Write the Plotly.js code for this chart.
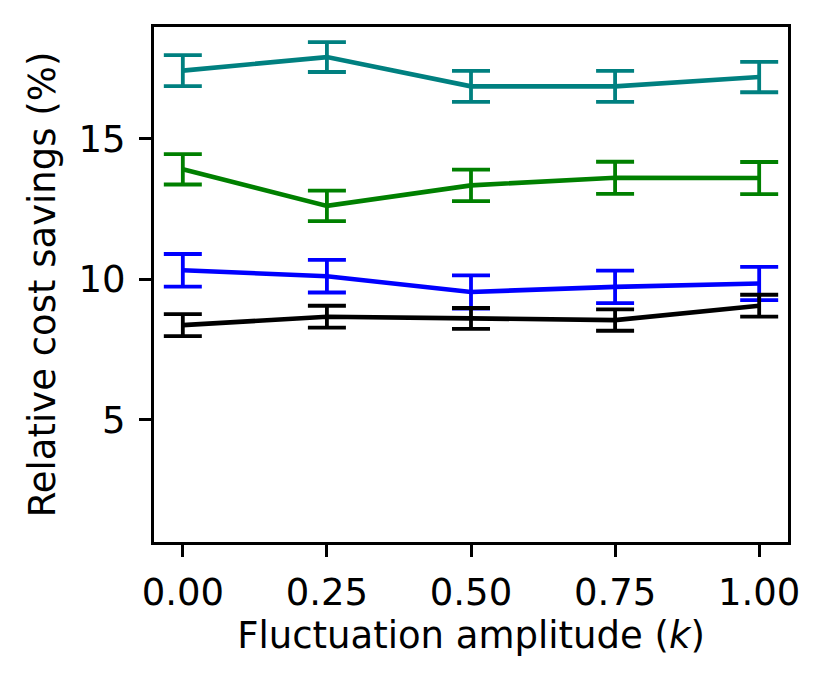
<!DOCTYPE html>
<html>
<head>
<meta charset="utf-8">
<script src="https://cdn.plot.ly/plotly-3.0.1.min.js"></script>
<style>
  html, body { margin:0; padding:0; background:#fff; }
  #chart { width:829px; height:690px; }
</style>
</head>
<body>
<div id="chart"></div>
<script>
// fluctuation amplitude k on the x axis
const amplitude = [0, 0.25, 0.5, 0.75, 1.0];

// mean relative cost savings (%) and their error bars
const tealMean  = [17.42, 17.90, 16.86, 16.86, 17.19];
const tealErr   = [0.55, 0.53, 0.55, 0.55, 0.54];
const greenMean = [13.91, 12.61, 13.34, 13.61, 13.60];
const greenErr  = [0.54, 0.54, 0.56, 0.57, 0.57];
const blueMean  = [10.32, 10.11, 9.55, 9.73, 9.85];
const blueErr   = [0.58, 0.58, 0.59, 0.58, 0.59];
const blackMean = [8.37, 8.67, 8.61, 8.55, 9.06];
const blackErr  = [0.39, 0.39, 0.37, 0.38, 0.39];

const xTicks = [0, 0.25, 0.5, 0.75, 1.0];
const xTickText = ['0.00', '0.25', '0.50', '0.75', '1.00'];
const yTicks = [5, 10, 15];

const font = 'DejaVu Sans, Liberation Sans, sans-serif';

function series(y, err, color){
  return {
    x: amplitude, y: y, type: 'scatter', mode: 'lines',
    line: {color: color, width: 4.6},
    error_y: {type: 'data', array: err, visible: true, color: color, thickness: 3.8, width: 19},
    hoverinfo: 'x+y', showlegend: false
  };
}

const traces = [
  series(tealMean, tealErr, '#008080'),
  series(greenMean, greenErr, '#008000'),
  series(blueMean, blueErr, '#0000ff'),
  series(blackMean, blackErr, '#000000')
];

const axisCommon = {
  showline: true, mirror: true, linecolor: '#000', linewidth: 3,
  ticks: 'outside', ticklen: 12, tickwidth: 3, tickcolor: '#000',
  showgrid: false, zeroline: false,
  tickfont: {family: font, size: 37, color: '#000'}
};

const layout = {
  width: 829, height: 690,
  margin: {l: 154, r: 41, t: 27, b: 148},
  paper_bgcolor: '#fff', plot_bgcolor: '#fff',
  font: {family: font, color: '#000'},
  xaxis: Object.assign({}, axisCommon, {
    range: [-0.05, 1.05],
    tickvals: xTicks, ticktext: xTickText,
    ticklabelstandoff: 4,
    title: {text: 'Fluctuation amplitude (<i>k</i>)', font: {family: font, size: 37, color: '#000'}, standoff: 8}
  }),
  yaxis: Object.assign({}, axisCommon, {
    range: [0.66, 18.97],
    tickvals: yTicks,
    ticklabelstandoff: 6,
    title: {text: 'Relative cost savings (%)', font: {family: font, size: 37, color: '#000'}, standoff: 12}
  })
};

Plotly.newPlot('chart', traces, layout, {displayModeBar: false, staticPlot: true});
</script>
</body>
</html>
